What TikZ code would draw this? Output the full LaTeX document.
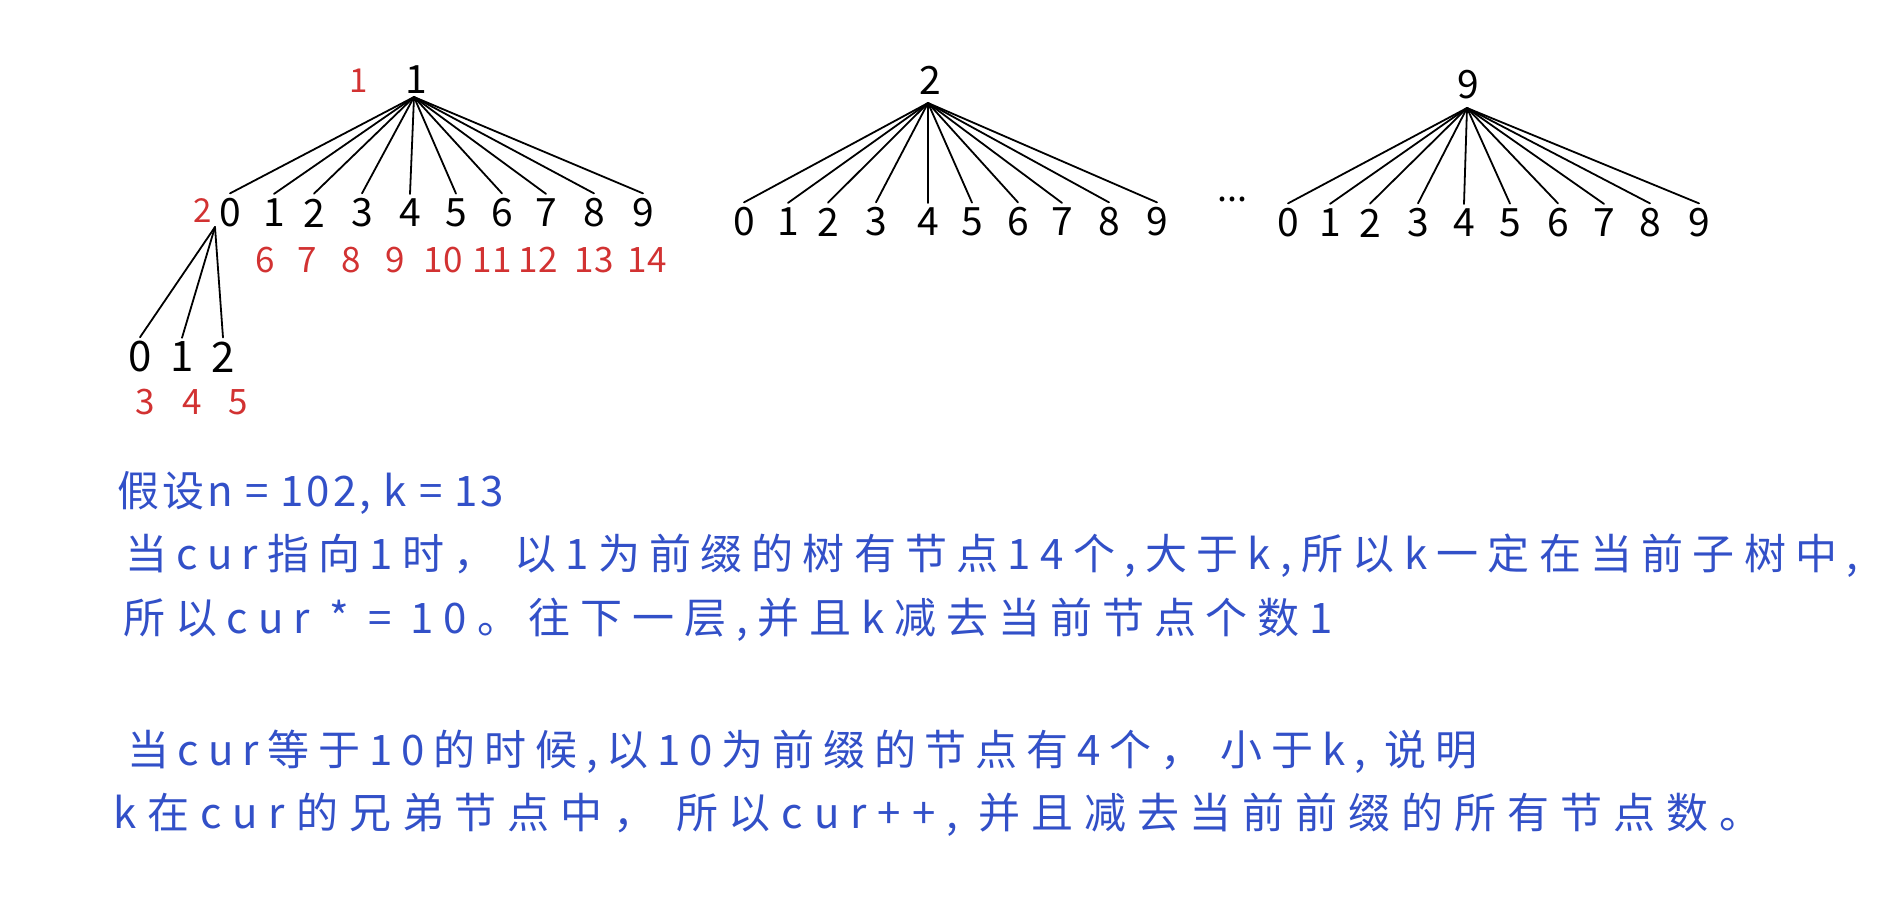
\documentclass[tikz,border=0pt]{standalone}
\usepackage{fontspec}
\newfontfamily\cjk{Noto Sans CJK SC}
\definecolor{inkblue}{RGB}{50,80,200}
\definecolor{inkred}{RGB}{210,50,50}
\begin{document}
\begin{tikzpicture}[x=1pt,y=-1pt,
  digit/.style={font=\cjk\fontsize{39}{42}\selectfont, inner sep=0pt, text=black},
  bigdigit/.style={font=\cjk\fontsize{42}{46}\selectfont, inner sep=0pt, text=black},
  rdigit/.style={font=\cjk\fontsize{35}{40}\selectfont, inner sep=0pt, text=inkred},
  rsmall/.style={font=\cjk\fontsize{33}{38}\selectfont, inner sep=0pt, text=inkred},
  edge/.style={line width=1.8pt, black, line cap=round},
  dots/.style={font=\cjk\fontsize{36}{40}\selectfont, inner sep=0pt, anchor=base, text=black},
  txt/.style={font=\cjk\fontsize{42}{48}\selectfont, text=inkblue, anchor=west, inner sep=0pt}]
\useasboundingbox (0,0) rectangle (1897,897);
\fill[white] (0,0) rectangle (1897,897);

% ---------- tree 1 ----------
\node[digit] (r1) at (416,80) {1};
\node[rsmall] (r1lab) at (359,81) {1};
\coordinate (a1) at (414,97);
\foreach \d/\x in {0/230,1/274,2/314,3/362,4/410,5/456,6/502,7/546,8/594,9/643}{
  \node[digit] (t1c\d) at (\x,213) {\d};
  \draw[edge] (a1) -- ([yshift=5pt]t1c\d.north);
}
\node[rsmall] (t1lab) at (203,211) {2};
\foreach \v/\x in {6/265,7/307,8/351,9/395,10/443,11/492,12/538,13/594,14/647}{
  \node[rdigit] (t1r\v) at (\x,260) {\v};
}

% ---------- subtree of 10 ----------
\coordinate (a10) at (215,227);
\foreach \d/\x in {0/140,1/182,2/223}{
  \node[bigdigit] (s\d) at (\x,357) {\d};
  \draw[edge] (a10) -- ([yshift=4pt]s\d.north);
}
\foreach \v/\x in {3/145,4/192,5/238}{
  \node[rdigit] (sr\v) at (\x,402) {\v};
}

% ---------- tree 2 ----------
\node[digit] (r2) at (930,80) {2};
\coordinate (a2) at (928,103);
\foreach \d/\x in {0/744,1/788,2/828,3/876,4/928,5/972,6/1018,7/1062,8/1109,9/1157}{
  \node[digit] (t2c\d) at (\x,222) {\d};
  \draw[edge] (a2) -- ([yshift=5pt]t2c\d.north);
}
\node[dots] (d1) at (1232,201) {...};

% ---------- tree 9 ----------
\node[digit] (r9) at (1468,85) {9};
\coordinate (a9) at (1467,108);
\foreach \d/\x in {0/1288,1/1330,2/1370,3/1418,4/1464,5/1510,6/1558,7/1604,8/1650,9/1699}{
  \node[digit] (t9c\d) at (\x,223) {\d};
  \draw[edge] (a9) -- ([yshift=5pt]t9c\d.north);
}

% ---------- explanation ----------
\node[txt] (l1) at (117,493) {\addfontfeature{LetterSpace=7}假设n = 102, k = 13};
\node[txt] (l2) at (125,556) {\addfontfeature{LetterSpace=22}当cur指向1时， 以1为前缀的树有节点14个,大于k,所以k一定在当前子树中,};
\node[txt] (l3) at (123,620) {\addfontfeature{LetterSpace=23.5}所以cur * = 10。往下一层,并且k减去当前节点个数1};
\node[txt] (l4) at (127,752) {\addfontfeature{LetterSpace=21}当cur等于10的时候,以10为前缀的节点有4个， 小于k, 说明};
\node[txt] (l5) at (113,815) {\addfontfeature{LetterSpace=26}k在cur的兄弟节点中， 所以cur++, 并且减去当前前缀的所有节点数。};
\end{tikzpicture}
\end{document}
